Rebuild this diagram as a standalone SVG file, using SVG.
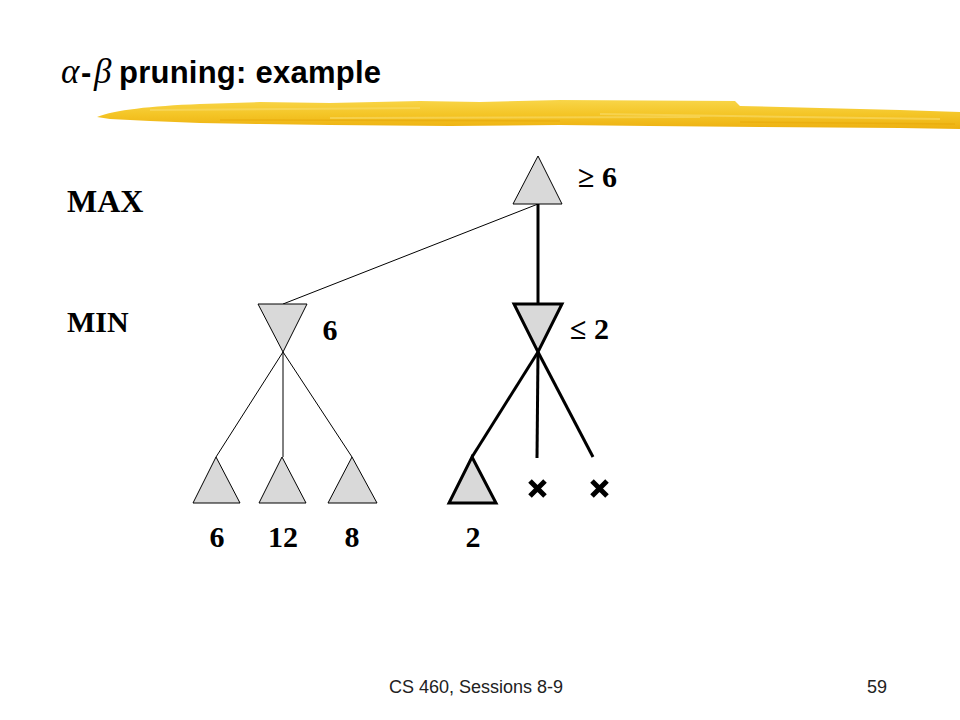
<svg xmlns="http://www.w3.org/2000/svg" width="960" height="720" viewBox="0 0 960 720">
<defs>
<linearGradient id="brush" x1="0" y1="0" x2="0" y2="1">
<stop offset="0" stop-color="#f8d548"/>
<stop offset="0.5" stop-color="#f4c526"/>
<stop offset="1" stop-color="#edb010"/>
</linearGradient>
<style>
.tri{fill:#d9d9d9;stroke:#000;stroke-width:1}
.tri-b{fill:#d9d9d9;stroke:#000;stroke-width:3}
.thin{stroke:#000;stroke-width:1;fill:none}
.thick{stroke:#000;stroke-width:3;fill:none}
.lbl{font-family:"Liberation Serif","Times New Roman",serif;font-weight:bold;font-size:30px;fill:#000}
.lvl{font-family:"Liberation Serif","Times New Roman",serif;font-weight:bold;fill:#000}
.foot{font-family:"Liberation Sans",Arial,sans-serif;font-size:18px;fill:#222}
.x{stroke:#000;stroke-width:5;stroke-linecap:butt}
.greek{font-family:"Liberation Serif","Times New Roman",serif;font-style:italic;font-size:35px}
.ttl{font-family:"Liberation Sans",Arial,sans-serif;font-weight:bold;font-size:31px}
</style>
</defs>
<rect width="960" height="720" fill="#fff"/>
<g id="title">
<path d="M97,117 C115,110 150,106 200,104 L260,102 L330,103 L420,101 L480,102 L560,100 L735,101 L740,106 L820,108 L900,110 L960,112 L960,129 L900,128 L760,127 L650,126 L560,125 L450,126 L330,125 L260,124 L200,123 L150,121 L110,119 Z" fill="url(#brush)"/>
<path d="M150,110 L420,108 M330,118 L700,117 M600,114 L940,119" stroke="#f9dc6a" stroke-width="2" opacity="0.6"/>
<path d="M220,120 L560,121 M740,122 L955,124" stroke="#e8a90a" stroke-width="1.5" opacity="0.6"/>
<text y="83" fill="#000"><tspan class="greek" x="61">α</tspan><tspan class="ttl" x="81">-</tspan><tspan class="greek" x="94">β</tspan><tspan class="ttl" x="119" textLength="262">pruning: example</tspan></text>
</g>
<g id="levels">
<text class="lvl" x="67" y="212" font-size="32">MAX</text>
<text class="lvl" x="67" y="332" font-size="30">MIN</text>
</g>
<g id="connectors">
<line class="thin" x1="538" y1="204" x2="283" y2="304"/>
<line class="thick" x1="538" y1="204" x2="538" y2="303"/>
<line class="thin" x1="283" y1="352" x2="216" y2="457"/>
<line class="thin" x1="283" y1="352" x2="283" y2="457"/>
<line class="thin" x1="283" y1="352" x2="352" y2="457"/>
<line class="thick" x1="538" y1="352" x2="472" y2="457"/>
<line class="thick" x1="538" y1="352" x2="537" y2="458"/>
<line class="thick" x1="538" y1="352" x2="593" y2="457"/>
</g>
<g id="root">
<polygon class="tri" points="538,156 562,204 513,204"/>
<text class="lbl" x="578" y="187">≥ 6</text>
</g>
<g id="min-left">
<polygon class="tri" points="258,304 307,304 283,352"/>
<text class="lbl" x="330" y="340" text-anchor="middle">6</text>
</g>
<g id="min-right">
<polygon class="tri-b" points="514,304 562,304 538,352"/>
<text class="lbl" x="570" y="339">≤ 2</text>
</g>
<g id="leaf-6">
<polygon class="tri" points="216,457 240,503 193,503"/>
<text class="lbl" x="217" y="547" text-anchor="middle">6</text>
</g>
<g id="leaf-12">
<polygon class="tri" points="282,457 306,503 259,503"/>
<text class="lbl" x="283" y="547" text-anchor="middle">12</text>
</g>
<g id="leaf-8">
<polygon class="tri" points="352,457 377,503 328,503"/>
<text class="lbl" x="352" y="547" text-anchor="middle">8</text>
</g>
<g id="leaf-2">
<polygon class="tri-b" points="472,457 496,503 449,503"/>
<text class="lbl" x="473" y="547" text-anchor="middle">2</text>
</g>
<g id="pruned-1">
<path class="x" d="M530,481 L545,496 M545,481 L530,496"/>
</g>
<g id="pruned-2">
<path class="x" d="M592,481 L607,496 M607,481 L592,496"/>
</g>
<g id="footer">
<text class="foot" x="476" y="693" text-anchor="middle">CS 460,  Sessions 8-9</text>
<text class="foot" x="867" y="693">59</text>
</g>
</svg>
